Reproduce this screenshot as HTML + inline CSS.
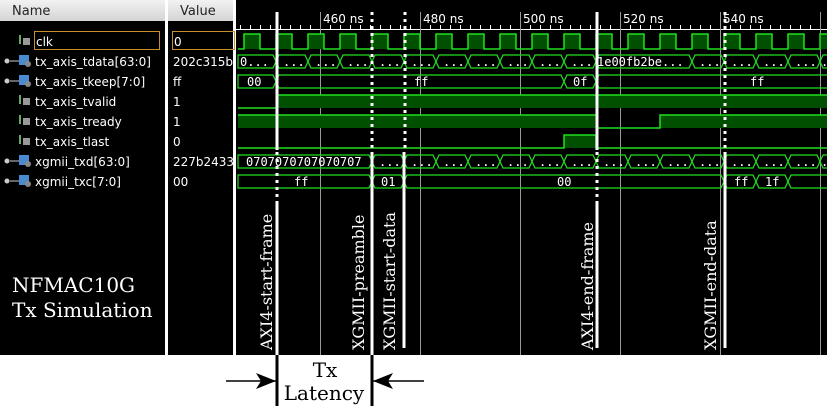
<!DOCTYPE html>
<html><head><meta charset="utf-8"><style>
html,body{margin:0;padding:0;background:#fff;}
body{width:827px;height:408px;overflow:hidden;position:relative;font-family:"DejaVu Sans","Liberation Sans",sans-serif;}
svg{position:absolute;left:0;top:0;}
</style></head><body>
<svg id="s" width="827" height="408" xmlns="http://www.w3.org/2000/svg">
<rect x="0" y="0" width="827" height="355" fill="#000"/>
<defs><linearGradient id="hg" x1="0" y1="0" x2="0" y2="1"><stop offset="0" stop-color="#f2f2f2"/><stop offset="1" stop-color="#d4d4d4"/></linearGradient></defs>
<rect x="0" y="0" width="165" height="21" fill="url(#hg)"/>
<rect x="168" y="0" width="65" height="21" fill="url(#hg)"/>
<rect x="165" y="0" width="3" height="355" fill="#fff"/>
<rect x="233" y="0" width="3" height="355" fill="#fff"/>
<g font-size="13" fill="#222" font-family="DejaVu Sans,sans-serif">
<text x="12" y="15">Name</text><text x="180" y="15">Value</text></g>
<!-- names -->
<rect x="34.5" y="31.5" width="125" height="18" fill="none" stroke="#c8902c"/>
<rect x="172.5" y="31.5" width="62" height="18" fill="none" stroke="#c8902c"/>
<g font-size="12" fill="#fff" font-family="DejaVu Sans,sans-serif">
<text x="36" y="46">clk</text>
<text x="35" y="66">tx_axis_tdata[63:0]</text>
<text x="35" y="86">tx_axis_tkeep[7:0]</text>
<text x="35" y="106">tx_axis_tvalid</text>
<text x="35" y="126">tx_axis_tready</text>
<text x="35" y="146">tx_axis_tlast</text>
<text x="35" y="166">xgmii_txd[63:0]</text>
<text x="35" y="186">xgmii_txc[7:0]</text>
<text x="174" y="46">0</text>
<text x="173" y="66">202c315b</text>
<text x="173" y="86">ff</text>
<text x="173" y="106">1</text>
<text x="173" y="126">1</text>
<text x="173" y="146">0</text>
<text x="173" y="166">227b2433</text>
<text x="173" y="186">00</text>
</g>
<g id="icons"></g>
<!-- ruler -->
<line x1="236" y1="29.5" x2="827" y2="29.5" stroke="#fff"/>
<g id="ticks" stroke="#fff"></g>
<g id="grid" stroke="#999" stroke-width="1"></g>
<g font-size="12" fill="#fff" font-family="DejaVu Sans,sans-serif">
<text x="323" y="23">460 ns</text><text x="423" y="23">480 ns</text><text x="523" y="23">500 ns</text><text x="623" y="23">520 ns</text><text x="723" y="23">540 ns</text>
</g>
<g id="waves"></g>
<g font-size="12" fill="#fff" font-family="DejaVu Sans Mono,Liberation Mono,monospace">
<text x="240" y="66">0...</text>
<text x="597" y="66">1e00fb2be...</text>
<text x="247" y="86">00</text>
<text x="414" y="86">ff</text>
<text x="573" y="86">0f</text>
<text x="750" y="86">ff</text>
<text x="246" y="166">0707070707070707</text>
<text x="294" y="186">ff</text>
<text x="381" y="186">01</text>
<text x="557" y="186">00</text>
<text x="734" y="186">ff</text>
<text x="765" y="186">1f</text>
</g>
<g id="dots" font-size="12" fill="#fff" font-family="DejaVu Sans Mono,monospace"></g>
<g id="marks"></g>
<g font-size="16" fill="#fff" font-family="DejaVu Serif,Liberation Serif,serif">
<text transform="translate(272,350) rotate(-90)">AXI4-start-frame</text>
<text transform="translate(364,350) rotate(-90)">XGMII-preamble</text>
<text transform="translate(395,350) rotate(-90)">XGMII-start-data</text>
<text transform="translate(593,350) rotate(-90)">AXI4-end-frame</text>
<text transform="translate(716,350) rotate(-90)">XGMII-end-data</text>
<text x="12" y="292" font-size="20">NFMAC10G</text>
<text x="12" y="317" font-size="20">Tx Simulation</text>
</g>
<rect x="275.5" y="355" width="3" height="51" fill="#000"/>
<rect x="370.5" y="355" width="3" height="51" fill="#000"/>
<line x1="226" y1="381" x2="276" y2="381" stroke="#000" stroke-width="1.5"/>
<polygon points="276,381 256,373 261,381 256,389" fill="#000"/>
<line x1="372" y1="381" x2="424" y2="381" stroke="#000" stroke-width="1.5"/>
<polygon points="373,381 393,373 388,381 393,389" fill="#000"/>
<g font-size="20" fill="#000" font-family="DejaVu Serif,Liberation Serif,serif" text-anchor="middle">
<text x="325" y="377">Tx</text><text x="324" y="400">Latency</text></g>
</svg>
<script>
var NS="http://www.w3.org/2000/svg";
function el(p,t,a){var e=document.createElementNS(NS,t);for(var k in a)e.setAttribute(k,a[k]);document.getElementById(p).appendChild(e);return e;}
// ticks
for(var x=240.5;x<827;x+=10){el("ticks","line",{x1:x,y1:25,x2:x,y2:29});}
[320.5,420.5,520.5,620.5,720.5,820.5].forEach(function(x){el("grid","line",{x1:x,y1:12,x2:x,y2:355});});
var G="#1fe01f",F="#005000";
// clock
var pts="238,49 ";
for(var r=244;r<827;r+=32){pts+=r+",49 "+r+",34 "+(r+16)+",34 "+(r+16)+",49 ";}
for(var r=244;r<827;r+=32){el("waves","rect",{x:r,y:34,width:16,height:15,fill:F});}
el("waves","polyline",{points:pts,fill:"none",stroke:G,"stroke-width":1.5});
function bus(T,B,xs,dots){var M=(T+B)/2;for(var i=0;i<xs.length-1;i++){var a=xs[i],b=xs[i+1];
 var p=(i==0?a:a+3)+","+T+" "+(b-3)+","+T+" "+b+","+M+" "+(b-3)+","+B+" "+(i==0?a:a+3)+","+B+(i==0?"":" "+a+","+M);
 el("waves","polygon",{points:p,fill:"none",stroke:G,"stroke-width":1.2});
 if(dots&&dots.indexOf(i)>=0){var t=el("dots","text",{x:(a+b)/2-9,y:B-2});t.textContent="...";}}}
var E=function(k){return 244+32*k;};
var td=[238];for(var k=1;k<=11;k++)td.push(E(k));td.push(E(14));for(k=15;k<=18;k++)td.push(E(k));td.push(840);
var tdd=[];for(k=1;k<=10;k++)tdd.push(k);tdd.push(12,13,14,15,16);
bus(55,68,td,tdd);
bus(75,88,[238,E(1),E(10),E(11),840],[]);
var xd=[238];for(k=4;k<=18;k++)xd.push(E(k));xd.push(840);
var xdd=[];for(k=1;k<=15;k++)xdd.push(k);
bus(155,168,xd,xdd);
bus(175,188,[238,E(4),E(5),E(15),E(16),E(17),840],[]);
// single bits
function bit(lo,hi,segs){var p="";segs.forEach(function(s){if(s[2]){el("waves","rect",{x:s[0],y:hi,width:s[1]-s[0],height:lo-hi,fill:F});}});
 var pts="";segs.forEach(function(s){var y=s[2]?hi:lo;pts+=s[0]+","+y+" "+s[1]+","+y+" ";});
 el("waves","polyline",{points:pts,fill:"none",stroke:G,"stroke-width":1.5});}
bit(108,95,[[238,277,0],[277,827,1]]);
bit(128,115,[[238,597,1],[597,660,0],[660,827,1]]);
bit(148,135,[[238,564,0],[564,596,1],[596,827,0]]);
// markers
function seg(x,y1,y2,dot){el("marks","line",{x1:x,y1:y1,x2:x,y2:y2,stroke:"#fff","stroke-width":3,"stroke-dasharray":dot?"3 4":"none"});}
seg(277,12,150,0);seg(277,152,203,1);seg(277,203,355,0);
seg(372,12,152,1);seg(372,152,355,0);
seg(405,12,152,1);seg(404,152,348,0);
seg(597,12,150,0);seg(597,152,203,1);seg(597,203,348,0);
seg(725,12,152,1);seg(725,152,348,0);
// icons
[41,101,121,141].forEach(function(y){el("icons","rect",{x:19,y:y-6,width:2,height:9,fill:"#6a6"});el("icons","rect",{x:23,y:y-3,width:7,height:7,fill:"#999"});});
[61,81,161,181].forEach(function(y){el("icons","circle",{cx:7,cy:y,r:2.5,fill:"#ccc"});el("icons","line",{x1:10,y1:y,x2:19,y2:y,stroke:"#ccc"});el("icons","rect",{x:19,y:y-6,width:10,height:10,fill:"#4a8ad0"});el("icons","circle",{cx:28,cy:y+3,r:3,fill:"#888"});});
</script>
</body></html>
